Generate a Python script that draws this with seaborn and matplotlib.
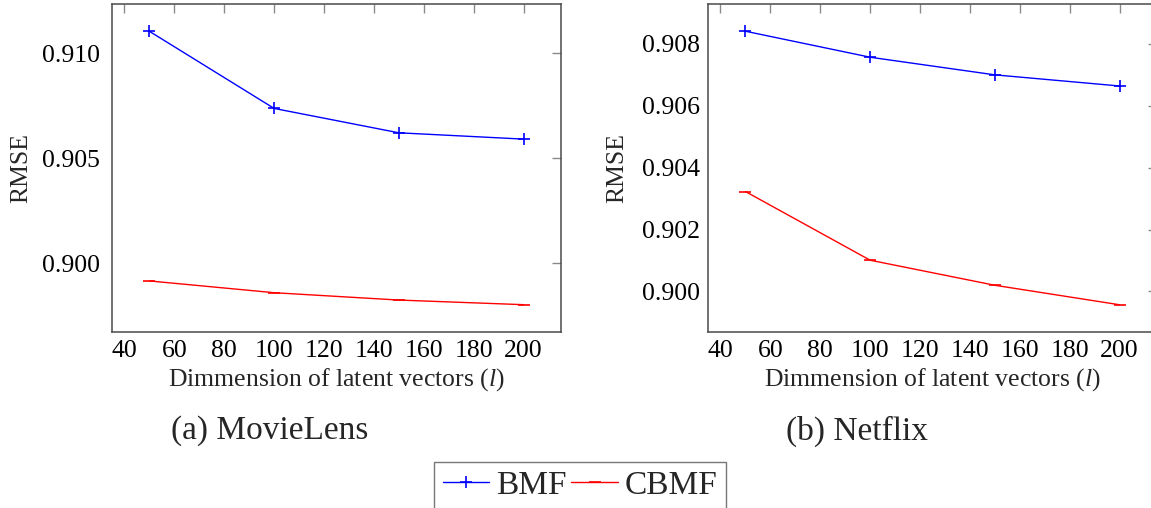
import matplotlib
matplotlib.use("Agg")
import matplotlib.pyplot as plt
import seaborn as sns
import pandas as pd

# ---- data ----
dims = [50, 100, 150, 200]
movielens_bmf = [0.91104, 0.90737, 0.90621, 0.90591]
movielens_cbmf = [0.89916, 0.89860, 0.89825, 0.89803]
netflix_bmf = [0.90841, 0.90757, 0.90700, 0.90664]
netflix_cbmf = [0.90323, 0.90101, 0.90020, 0.89957]
series_names = ["BMF", "CBMF"]
xticks = [40, 60, 80, 100, 120, 140, 160, 180, 200]
ml_yticks = [0.900, 0.905, 0.910]
nf_yticks = [0.900, 0.902, 0.904, 0.906, 0.908]
xlabel = "Dimmension of latent vectors ($l$)"
ylabel = "RMSE"
captions = ["(a) MovieLens", "(b) Netflix"]

sns.set_theme(style="white")
plt.rcParams["font.family"] = ["Liberation Serif", "DejaVu Serif"]
plt.rcParams["mathtext.fontset"] = "custom"
plt.rcParams["mathtext.rm"] = "Liberation Serif"
plt.rcParams["mathtext.it"] = "Liberation Serif:italic"

W, H = 1151, 508
fig = plt.figure(figsize=(W / 100, H / 100), dpi=100)
fig.patch.set_facecolor("white")

def px_axes(left, top, right, bottom):
    return fig.add_axes([left / W, 1 - bottom / H, (right - left) / W, (bottom - top) / H])

ax1 = px_axes(112, 4, 561, 332)
ax2 = px_axes(708, 4, 1157, 332)

colors = {"BMF": "#0000ff", "CBMF": "#ff0000"}
markers = {"BMF": "+", "CBMF": "_"}
FS = 18.5

def draw(ax, bmf, cbmf, yticks, ylim, ypad):
    df = pd.DataFrame({
        "dim": dims * 2,
        "rmse": bmf + cbmf,
        "series": ["BMF"] * len(dims) + ["CBMF"] * len(dims),
    })
    for name in series_names:
        sub = df[df["series"] == name]
        sns.lineplot(data=sub, x="dim", y="rmse", ax=ax, color=colors[name],
                     marker=markers[name], markersize=9, markeredgewidth=1.2,
                     markeredgecolor=colors[name], linewidth=1.0, label=name,
                     legend=False)
    ax.set_xlim(35, 215)
    ax.set_ylim(*ylim)
    ax.set_xticks(xticks)
    ax.set_xticklabels([str(t) for t in xticks])
    ax.set_yticks(yticks)
    ax.set_yticklabels([f"{t:.3f}" for t in yticks])
    ax.tick_params(axis="both", which="major", direction="in", length=6.5,
                   width=1.0, color="#8a8a8a", labelsize=FS,
                   top=True, right=True, labelcolor="black")
    ax.tick_params(axis="x", pad=6)
    ax.tick_params(axis="y", pad=ypad)
    for s in ax.spines.values():
        s.set_color("#4a4a4a")
        s.set_linewidth(1.1)
        s.set_visible(True)
    ax.set_xlabel(xlabel, fontsize=FS, labelpad=3)
    ax.set_ylabel(ylabel, fontsize=FS)
    ax.yaxis.set_label_coords(-0.178, 0.5)
    ax.grid(False)

draw(ax1, movielens_bmf, movielens_cbmf, ml_yticks, (0.89673, 0.91234), 9)
draw(ax2, netflix_bmf, netflix_cbmf, nf_yticks, (0.89869, 0.90929), 6)

fig.text(270 / W, 1 - 431 / H, captions[0], ha="center", va="center", fontsize=24)
fig.text(857 / W, 1 - 431 / H, captions[1], ha="center", va="center", fontsize=24)

handles, labels = ax1.get_legend_handles_labels()
leg = fig.legend(handles, labels, loc="upper center", ncol=2,
                 bbox_to_anchor=(580 / W, 1 - 462 / H), fontsize=24,
                 frameon=True, fancybox=False, edgecolor="#555555",
                 handlelength=1.4, handletextpad=0.2, columnspacing=0.15,
                 borderpad=0.25, borderaxespad=0)
leg.get_frame().set_linewidth(1.0)

fig.savefig("out.png", dpi=100, facecolor="white")
